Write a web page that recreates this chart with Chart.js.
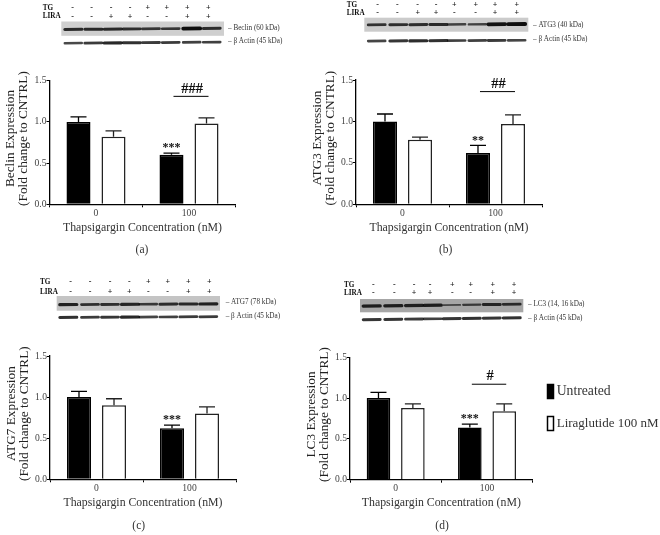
<!DOCTYPE html>
<html>
<head>
<meta charset="utf-8">
<script src="https://cdn.jsdelivr.net/npm/chart.js@4"></script>
<style>
html, body { margin: 0; padding: 0; background: #fff; }
#page { position: relative; width: 660px; height: 535px; overflow: hidden; background: #fff; }
canvas { position: absolute; left: 0; top: 0; }
</style>
</head>
<body>
<div id="page"><canvas id="notes" width="660" height="535"></canvas></div>
<script>
//values
const categories = ['0', '100'];
const y_tick_labels = ['0.0', '0.5', '1.0', '1.5'];
const x_title = 'Thapsigargin Concentration (nM)';
const series_names = ['Untreated', 'Liraglutide 100 nM'];

const beclin_untreated = [1.0, 0.60];
const beclin_lira = [0.82, 0.98];
const beclin_untreated_err = [0.06, 0.02];
const beclin_lira_err = [0.07, 0.07];

const atg3_untreated = [1.0, 0.62];
const atg3_lira = [0.78, 0.97];
const atg3_untreated_err = [0.09, 0.09];
const atg3_lira_err = [0.03, 0.11];

const atg7_untreated = [1.0, 0.62];
const atg7_lira = [0.90, 0.80];
const atg7_untreated_err = [0.07, 0.04];
const atg7_lira_err = [0.08, 0.08];

const lc3_untreated = [1.0, 0.64];
const lc3_lira = [0.88, 0.84];
const lc3_untreated_err = [0.07, 0.04];
const lc3_lira_err = [0.05, 0.09];

//blot header signs and band strength per lane (0 to 1)
const tg_signs = ['-', '-', '-', '-', '+', '+', '+', '+'];
const lira_signs = ['-', '-', '+', '+', '-', '-', '+', '+'];
const beclin_band = [0.6, 0.6, 0.6, 0.55, 0.45, 0.45, 0.95, 0.55];
const atg3_band = [0.5, 0.55, 0.55, 0.6, 0.3, 0.3, 0.9, 0.95];
const atg7_band = [0.7, 0.5, 0.5, 0.65, 0.4, 0.55, 0.6, 0.7];
const lc3_band = [0.7, 0.7, 0.65, 0.7, 0.1, 0.25, 0.6, 0.5];
const actin_a_band = [0.35, 0.5, 0.7, 0.6, 0.5, 0.5, 0.45, 0.45];
const actin_b_band = [0.4, 0.55, 0.65, 0.6, 0.45, 0.45, 0.5, 0.4];
const actin_c_band = [0.6, 0.5, 0.55, 0.7, 0.4, 0.45, 0.5, 0.5];
const actin_d_band = [0.55, 0.55, 0.5, 0.45, 0.55, 0.6, 0.55, 0.6];

const page = document.getElementById('page');
const notes = document.getElementById('notes').getContext('2d');

//draws error bars, significance marks and the y title, using the chart's own scales
const marks_plugin = {
  id: 'marks',
  afterDatasetsDraw(chart, args, opts) {
    const ctx = chart.ctx;
    const y = chart.scales.y;
    ctx.save();
    chart.data.datasets.forEach((ds, d) => {
      chart.getDatasetMeta(d).data.forEach((bar, i) => {
        const top = y.getPixelForValue(ds.data[i] + ds.err[i]);
        ctx.strokeStyle = d === 0 ? '#000' : '#222';
        ctx.lineWidth = 1.3;
        ctx.beginPath();
        ctx.moveTo(bar.x, y.getPixelForValue(ds.data[i]));
        ctx.lineTo(bar.x, top);
        ctx.moveTo(bar.x - 8, top);
        ctx.lineTo(bar.x + 8, top);
        ctx.stroke();
        //stars sit just over the whisker of the black 100 nM bar
        if (d === 0 && i === 1) {
          ctx.fillStyle = '#111';
          ctx.font = 'bold 12px "Liberation Serif"';
          ctx.textAlign = 'center';
          ctx.textBaseline = 'middle';
          ctx.fillText(opts.stars, bar.x, top - 5);
        }
      });
    });
    if (opts.hash) {
      const a = chart.getDatasetMeta(0).data[1].x + 2;
      const b = chart.getDatasetMeta(1).data[1].x + 2;
      const h = y.getPixelForValue(opts.hashLevel);
      ctx.strokeStyle = '#000';
      ctx.lineWidth = 1;
      ctx.beginPath();
      ctx.moveTo(a, h);
      ctx.lineTo(b, h);
      ctx.stroke();
      ctx.fillStyle = '#111';
      ctx.font = 'bold 14.5px "Liberation Serif"';
      ctx.textAlign = 'center';
      ctx.textBaseline = 'middle';
      ctx.fillText(opts.hash, (a + b) / 2 + 1, h - 7.5);
    }
    //two line y title, a little above the middle of the axis
    ctx.translate(y.left, (y.top + y.bottom) / 2 - 4);
    ctx.rotate(-Math.PI / 2);
    ctx.fillStyle = '#222';
    ctx.font = '13.3px "Liberation Serif"';
    ctx.textAlign = 'center';
    ctx.textBaseline = 'middle';
    ctx.fillText(opts.y_title[0], 0, 11.5);
    ctx.fillText(opts.y_title[1], 0, 25);
    ctx.restore();
  }
};

function makeChart(p) {
  const canvas = document.createElement('canvas');
  const left = Math.floor(p.plot[0] - 50);
  const top = Math.floor(p.plot[1] - 20);
  const width = 300;
  const height = 180;
  canvas.width = width;
  canvas.height = height;
  canvas.style.left = left + 'px';
  canvas.style.top = top + 'px';
  page.appendChild(canvas);

  const axis_h = 32;
  new Chart(canvas, {
    type: 'bar',
    data: {
      labels: categories,
      datasets: [
        { label: series_names[0], data: p.untreated, err: p.untreated_err, backgroundColor: '#000', borderColor: '#000', borderWidth: 1.5 },
        { label: series_names[1], data: p.lira, err: p.lira_err, backgroundColor: '#fff', borderColor: '#222', borderWidth: 1.5 }
      ]
    },
    plugins: [marks_plugin],
    options: {
      responsive: false,
      animation: false,
      categoryPercentage: 0.753,
      barPercentage: 0.686,
      layout: {
        padding: {
          top: p.plot[1] - top,
          right: width - (p.plot[2] - left),
          bottom: height - (p.plot[3] - top) - axis_h,
          left: 0
        }
      },
      scales: {
        x: {
          afterFit(scale) { scale.height = axis_h; },
          grid: { drawOnChartArea: false, tickLength: 3, color: '#000' },
          border: { color: '#000', width: 1.3 },
          ticks: { color: '#444', padding: 0, font: { family: 'Liberation Serif', size: 9.6 } },
          title: { display: true, text: x_title, color: '#333', padding: { top: 0, bottom: 1.5 }, font: { family: 'Liberation Serif', size: 11.8 } }
        },
        y: {
          min: 0,
          max: 1.5,
          afterFit(scale) { scale.width = p.plot[0] - left; },
          grid: { drawOnChartArea: false, tickLength: 3, color: '#000' },
          border: { color: '#000', width: 1.3 },
          ticks: {
            stepSize: 0.5,
            color: '#444',
            padding: 0,
            font: { family: 'Liberation Serif', size: 9.6 },
            callback: (v, i) => y_tick_labels[i]
          }
        }
      },
      plugins: {
        tooltip: { enabled: false },
        marks: { stars: p.stars, hash: p.hash, hashLevel: p.hashLevel, y_title: p.y_title },
        legend: { display: false }
      }
    }
  });
}

//text outside the charts goes on the notes canvas
function addText(txt, x, y, size, center, bold) {
  notes.fillStyle = bold ? '#111' : '#333';
  notes.font = (bold ? 'bold ' : '') + size + 'px "Liberation Serif"';
  notes.textAlign = center ? 'center' : 'left';
  notes.textBaseline = 'middle';
  notes.fillText(txt, x, y);
}

function addBands(strengths, laneX, bandY, slope) {
  notes.save();
  notes.filter = 'blur(0.7px)';
  notes.lineCap = 'round';
  strengths.forEach((s, i) => {
    const mid = bandY - slope * i;
    notes.strokeStyle = 'rgba(10,10,10,' + (0.6 + s * 0.4) + ')';
    notes.lineWidth = 1.7 + s * 2.2;
    notes.beginPath();
    notes.moveTo(laneX[i] - 8.5, mid + 0.1);
    notes.lineTo(laneX[i] + 8.5, mid - 0.1);
    notes.stroke();
  });
  notes.restore();
}

//western blot strip on top of each panel
function makeBlot(b) {
  addText('TG', b.headX, b.tgY, 7.2, false, true);
  addText('LIRA', b.headX, b.liraY, 7.2, false, true);
  tg_signs.forEach((s, i) => addText(s, b.signX[i], b.tgY, 8, true, true));
  lira_signs.forEach((s, i) => addText(s, b.signX[i], b.liraY, 8, true, true));
  notes.fillStyle = b.bg;
  notes.fillRect(b.box[0], b.box[1], b.box[2], b.box[3]);
  addBands(b.band, b.laneX, b.bandY, b.slope);
  addBands(b.actin, b.laneX, b.actinY, b.slope);
  addText('– ' + b.name, b.labelX, b.labelY[0], 7.2);
  addText('– β Actin (45 kDa)', b.labelX, b.labelY[1], 7.2);
}

//legend beside panel d
function addKey(fill, x, y) {
  notes.fillStyle = fill;
  notes.strokeStyle = '#000';
  notes.lineWidth = 1.5;
  notes.fillRect(x, y, 6, 14);
  notes.strokeRect(x, y, 6, 14);
}

makeChart({ plot: [49.5, 80.7, 235.5, 204.3], y_title: ['Beclin Expression', '(Fold change to CNTRL)'],
  untreated: beclin_untreated, lira: beclin_lira, untreated_err: beclin_untreated_err, lira_err: beclin_lira_err,
  stars: '***', hash: '###', hashLevel: 1.31 });
makeChart({ plot: [356, 80, 542, 204.3], y_title: ['ATG3 Expression', '(Fold change to CNTRL)'],
  untreated: atg3_untreated, lira: atg3_lira, untreated_err: atg3_untreated_err, lira_err: atg3_lira_err,
  stars: '**', hash: '##', hashLevel: 1.36 });
makeChart({ plot: [50, 356, 236, 479.3], y_title: ['ATG7 Expression', '(Fold change to CNTRL)'],
  untreated: atg7_untreated, lira: atg7_lira, untreated_err: atg7_untreated_err, lira_err: atg7_lira_err,
  stars: '***' });
makeChart({ plot: [350, 357.3, 532.7, 479.7], y_title: ['LC3 Expression', '(Fold change to CNTRL)'],
  untreated: lc3_untreated, lira: lc3_lira, untreated_err: lc3_untreated_err, lira_err: lc3_lira_err,
  stars: '***', hash: '#', hashLevel: 1.17 });

makeBlot({ name: 'Beclin (60 kDa)', headX: 42.7, tgY: 7.7, liraY: 16.5, box: [61.3, 21.5, 162.7, 14.3], bg: '#cfcfcf',
  signX: [72.7, 91.7, 111, 130, 147.7, 166.7, 187.3, 208.3], laneX: [73.3, 93.3, 112.7, 131.7, 151, 170.7, 191.7, 211.7],
  bandY: 29.4, actinY: 43.2, slope: 0.15, band: beclin_band, actin: actin_a_band, labelX: 228, labelY: [27.7, 41.3] });
makeBlot({ name: 'ATG3 (40 kDa)', headX: 346.7, tgY: 5.3, liraY: 13, box: [364.3, 17.7, 164, 14], bg: '#cbcbcb',
  signX: [377.7, 397.3, 417.7, 436, 454.3, 475.7, 495, 516.7], laneX: [376.7, 398.3, 418.3, 438.3, 456.7, 477.3, 496.7, 516.7],
  bandY: 24.8, actinY: 41, slope: 0.1, band: atg3_band, actin: actin_b_band, labelX: 533, labelY: [24.8, 39] });
makeBlot({ name: 'ATG7 (78 kDa)', headX: 40, tgY: 282.3, liraY: 291.7, box: [56.7, 296, 163.3, 14.7], bg: '#c4c4c4',
  signX: [70.7, 90, 110, 129.3, 148.3, 167.7, 188.3, 209.3], laneX: [68.3, 90, 110, 130, 148.3, 168.3, 188.3, 208.3],
  bandY: 304.6, actinY: 317.4, slope: 0.1, band: atg7_band, actin: actin_c_band, labelX: 225.7, labelY: [301.7, 315.7] });
makeBlot({ name: 'LC3 (14, 16 kDa)', headX: 344, tgY: 285, liraY: 292.7, box: [360, 299, 163.3, 13.3], bg: '#a6a6a6',
  signX: [373.3, 394.3, 414, 430, 452.3, 470.7, 492.7, 514], laneX: [371.7, 393.3, 414, 432.7, 451.7, 471.7, 491.7, 511.7],
  bandY: 306, actinY: 319.6, slope: 0.25, band: lc3_band, actin: actin_d_band, labelX: 528, labelY: [304.3, 318.3] });

addKey('#000', 547.5, 384.5);
addText(series_names[0], 556.7, 391.7, 13.7);
addKey('#fff', 547.5, 416.5);
addText(series_names[1], 556.7, 423.3, 13);

addText('(a)', 142, 250, 11.5, true);
addText('(b)', 445.7, 250, 11.5, true);
addText('(c)', 138.7, 525.7, 11.5, true);
addText('(d)', 442, 525.7, 11.5, true);
</script>
</body>
</html>
